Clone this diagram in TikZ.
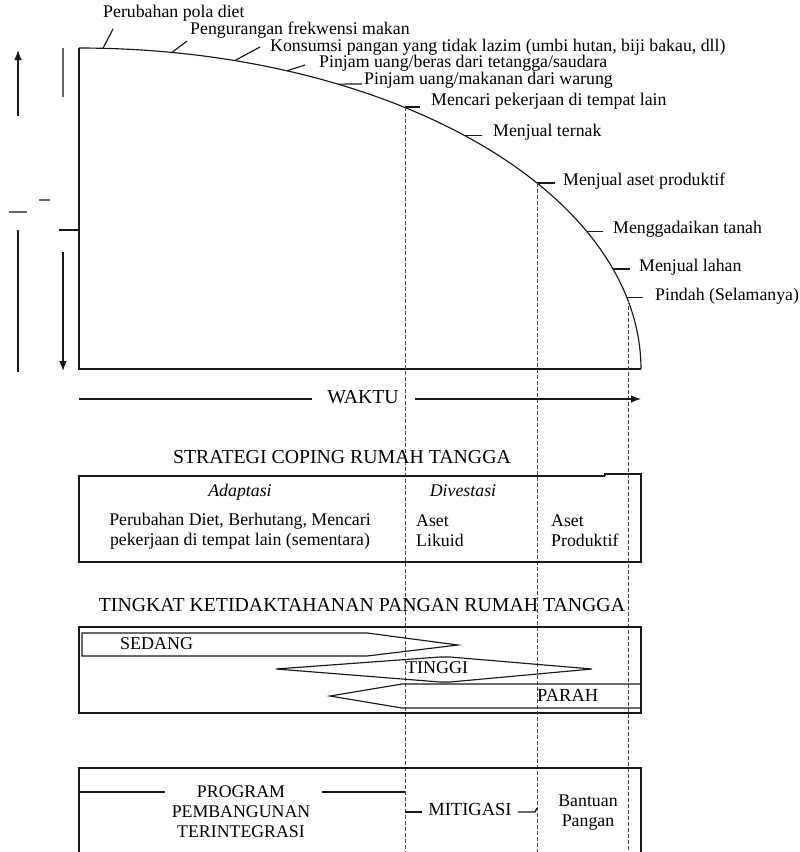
\documentclass[tikz,border=0pt]{standalone}
\usepackage{fontspec}
\setmainfont{Liberation Serif}
\usetikzlibrary{arrows.meta}
\begin{document}
\begin{tikzpicture}[x=1pt,y=-1pt,
  lbl/.style={anchor=west,inner sep=0pt,text height=11pt,text depth=3pt,font=\fontsize{17.8}{20}\selectfont},
  ctr/.style={inner sep=0pt,text height=11pt,text depth=3pt,font=\fontsize{18}{20}\selectfont},
  ttl/.style={inner sep=0pt,text height=12pt,text depth=3pt,font=\fontsize{19.8}{22}\selectfont},
  multi/.style={inner sep=0pt,align=center,font=\fontsize{17.8}{20}\selectfont},
  ln/.style={line width=1.15pt,black!90},
  dsh/.style={line width=1pt,black!70,dash pattern=on 3.5pt off 2.5pt},
  gr/.style={line width=1.2pt,black!60},
  tip/.style={-{Latex[length=10pt,width=7.5pt]}}
]
\useasboundingbox (0,0) rectangle (800,852);

% ---------- left remnants ----------
\coordinate (ua) at (18,116); \coordinate (ub) at (18,50);
\draw[ln,tip] (ua) -- (ub);
\coordinate (g1a) at (63,48); \coordinate (g1b) at (63,97);
\draw[gr] (g1a) -- (g1b);
\coordinate (d1a) at (9,212); \coordinate (d1b) at (27,212);
\draw[gr] (d1a) -- (d1b);
\coordinate (d2a) at (39,200); \coordinate (d2b) at (50,200);
\draw[gr] (d2a) -- (d2b);
\coordinate (d3a) at (59,230); \coordinate (d3b) at (79,230);
\draw[ln] (d3a) -- (d3b);
\coordinate (va) at (18,230); \coordinate (vb) at (18,372);
\draw[ln] (va) -- (vb);
\coordinate (wa) at (63,252); \coordinate (wb) at (63,371);
\draw[ln,tip] (wa) -- (wb);

% ---------- main curve box ----------
\coordinate (o) at (79,369);
\coordinate (top) at (79,48);
\coordinate (end) at (641,369);
\draw[ln] (top) -- (o) -- (end);
\draw[ln] plot[domain=0:90,samples=120,smooth] ({79+562*sin(\x)},{369-321*cos(\x)});

% points on curve
\coordinate (p1) at (103,48.3);
\coordinate (p2) at (172,52.4);
\coordinate (p3) at (235,60.5);
\coordinate (p4) at (287,70.8);
\coordinate (p5) at (338,84.1);
\coordinate (p6) at (405,107);
\coordinate (p7) at (465,135.7);
\coordinate (p8) at (537,183);
\coordinate (p9) at (587,231.7);
\coordinate (p10) at (613,269);
\coordinate (p11) at (627,297.8);
\coordinate (p12) at (628,300);

% tick ends
\coordinate (t1) at (113,29);
\coordinate (t2) at (187,41);
\coordinate (t3) at (260,47);
\coordinate (t4) at (305,65);
\coordinate (t5) at (362,84);
\coordinate (t6) at (420,107);
\coordinate (t7) at (482,135.7);
\coordinate (t8) at (555,183);
\coordinate (t9) at (603,231.7);
\coordinate (t10) at (630,269);
\coordinate (t11) at (643,297.8);
\foreach \i in {1,...,11} { \draw[ln] (p\i) -- (t\i); }

% labels
\node[lbl] (l1) at (103,13) {Perubahan pola diet};
\node[lbl] (l2) at (190,30) {Pengurangan frekwensi makan};
\node[lbl] (l3) at (270,47) {Konsumsi pangan yang tidak lazim (umbi hutan, biji bakau, dll)};
\node[lbl] (l4) at (319,63.5) {Pinjam uang/beras dari tetangga/saudara};
\node[lbl] (l5) at (364,80.5) {Pinjam uang/makanan dari warung};
\node[lbl] (l6) at (431,101) {Mencari pekerjaan di tempat lain};
\node[lbl] (l7) at (493,132) {Menjual ternak};
\node[lbl] (l8) at (563,181) {Menjual aset produktif};
\node[lbl] (l9) at (613,229) {Menggadaikan tanah};
\node[lbl] (l10) at (639,267) {Menjual lahan};
\node[lbl] (l11) at (655,296) {Pindah (Selamanya)};

% dashed verticals
\coordinate (b6) at (405,852);
\coordinate (b8) at (537,852);
\coordinate (b12) at (628,852);
\draw[dsh] (p6) -- (b6);
\draw[dsh] (p8) -- (b8);
\draw[dsh] (p12) -- (b12);

% ---------- WAKTU ----------
\node[ttl] (waktu) at (363,399) {WAKTU};
\coordinate (wl) at (79,399);
\coordinate (wr) at (641,399);
\draw[ln] (wl) -- (312,399);
\draw[ln,tip] (415,399) -- (wr);

% ---------- STRATEGI ----------
\node[ttl] (strat) at (342,459) {STRATEGI COPING RUMAH TANGGA};
\draw[ln] (605,476) -- (79,476) -- (79,562) -- (641,562) -- (641,474) -- (605,474) -- (605,476);
\node[ctr,font=\fontsize{17.8}{20}\selectfont\itshape] (adap) at (240,492) {Adaptasi};
\node[ctr,font=\fontsize{17.8}{20}\selectfont\itshape] (dives) at (463,492) {Divestasi};
\node[multi] (adtx) at (240,531) {Perubahan Diet, Berhutang, Mencari\\pekerjaan di tempat lain (sementara)};
\node[multi,align=left,anchor=west] (likuid) at (416,531) {Aset\\Likuid};
\node[multi,align=left,anchor=west] (prod) at (551,531) {Aset\\Produktif};

% ---------- TINGKAT ----------
\node[ttl] (tingkat) at (362,607) {TINGKAT KETIDAKTAHANAN PANGAN RUMAH TANGGA};
\draw[ln] (79,627) rectangle (641,713);
\draw[ln] (82,633) -- (367,633) -- (458,645) -- (367,656) -- (82,656) -- cycle;
\draw[ln] (276,669) -- (440,657) -- (450,657) -- (592,669) -- (450,682) -- (440,682) -- cycle;
\draw[ln] (330,696) -- (402,684) -- (641,684) -- (641,708) -- (402,708) -- cycle;
\node[lbl,font=\fontsize{18}{20}\selectfont] (sedang) at (120,645) {SEDANG};
\node[lbl,font=\fontsize{18}{20}\selectfont] (tinggi) at (406,669) {TINGGI};
\node[lbl,font=\fontsize{18.5}{20}\selectfont] (parah) at (537,697) {PARAH};

% ---------- bottom box ----------
\draw[ln] (79,852) -- (79,768) -- (641,768) -- (641,852);
\node[multi] (program) at (241,812) {PROGRAM\\PEMBANGUNAN\\TERINTEGRASI};
\coordinate (pl) at (79,792);
\coordinate (pr) at (405,792);
\draw[ln] (pl) -- (165,792);
\draw[ln] (322,792) -- (pr);
\node[ctr,font=\fontsize{18.5}{20}\selectfont] (mitig) at (470,811) {MITIGASI};
\coordinate (ml) at (405,812);
\coordinate (mr) at (535,812);
\draw[ln] (ml) -- ([xshift=-6pt]mitig.west |- ml);
\draw[ln] ([xshift=6pt]mitig.east |- mr) -- (mr) -- (537,808);
\node[multi] (bantuan) at (588,813) {Bantuan\\Pangan};
\end{tikzpicture}
\end{document}
